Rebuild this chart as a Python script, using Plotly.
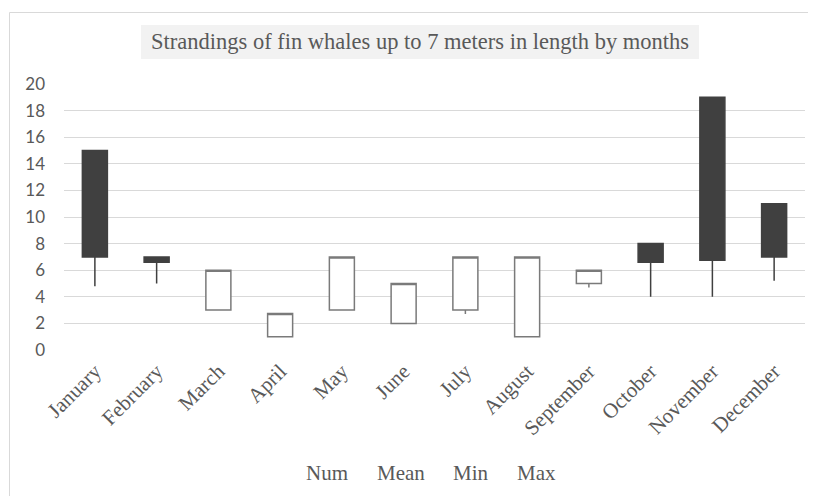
import plotly.graph_objects as go

months = ["January", "February", "March", "April", "May", "June", "July",
          "August", "September", "October", "November", "December"]
num_vals = [15, 7, 3, 1, 3, 2, 3, 1, 5, 8, 19, 11]
mean_vals = [15, 7, 6, 2.75, 7, 5, 7, 7, 6, 8, 19, 11]
min_vals = [4.8, 5, 3, 1, 3, 2, 2.7, 1, 4.7, 4, 4, 5.2]
max_vals = [7, 6.6, 6, 2.75, 7, 5, 7, 7, 6, 6.6, 6.75, 7]
legend_names = ["Num", "Mean", "Min", "Max"]
title_text = "Strandings of fin whales up to 7 meters in length by months"

# page body has an 8px margin, so the figure is offset by 8px
OFF = 8
W, H = 816 - OFF, 496 - OFF
L, R, T, B = 64 - OFF, 11, 84 - OFF, 146
pw, ph = W - L - R, H - T - B


def px_x(px):
    return (px - OFF - L) / pw


def px_y(py):
    return (H - B - (py - OFF)) / ph


fig = go.Figure()
fig.add_trace(go.Candlestick(
    x=months, open=num_vals, high=mean_vals, low=min_vals, close=max_vals,
    increasing=dict(line=dict(color="#7a7a7a", width=1.5), fillcolor="#ffffff"),
    decreasing=dict(line=dict(color="#404040", width=1.5), fillcolor="#404040"),
    showlegend=False, hoverinfo="skip",
))

serif = "Liberation Serif, Times New Roman, serif"
shapes = [
    dict(type="rect", xref="paper", yref="paper",
         x0=px_x(9.5), x1=px_x(830), y0=px_y(12.5), y1=px_y(520),
         line=dict(color="#d9d9d9", width=1), fillcolor="rgba(0,0,0,0)", layer="below"),
    dict(type="rect", xref="paper", yref="paper",
         x0=px_x(141), x1=px_x(699), y0=px_y(25), y1=px_y(59),
         line=dict(width=0), fillcolor="#f2f2f2", layer="below"),
]
annotations = [
    dict(text=title_text, xref="paper", yref="paper", x=px_x(420), y=px_y(42),
         showarrow=False, xanchor="center", yanchor="middle",
         font=dict(family=serif, size=22.5, color="#595959")),
]
legend_x = [327, 401, 471, 536]
for name, lx in zip(legend_names, legend_x):
    annotations.append(dict(text=name, xref="paper", yref="paper", x=px_x(lx), y=px_y(473),
                            showarrow=False, xanchor="center", yanchor="middle",
                            font=dict(family=serif, size=21, color="#595959")))

fig.update_layout(
    width=W, height=H,
    margin=dict(l=L, r=R, t=T, b=B, pad=0),
    paper_bgcolor="#ffffff", plot_bgcolor="#ffffff",
    showlegend=False,
    boxgap=0.595, boxgroupgap=0,
    shapes=shapes, annotations=annotations,
    xaxis=dict(type="category", rangeslider=dict(visible=False), showgrid=False,
               showline=False, zeroline=False, ticks="", tickangle=-45,
               ticklabelstandoff=4,
               tickfont=dict(family=serif, size=21, color="#595959")),
    yaxis=dict(range=[0, 20], tickvals=list(range(0, 21, 2)), showgrid=True,
               gridcolor="#d9d9d9", gridwidth=1, zeroline=False, showline=False,
               ticks="", ticklabelstandoff=18,
               tickfont=dict(family="Lato, Open Sans, sans-serif", size=17, color="#595959")),
)

fig.write_html("out.html")
